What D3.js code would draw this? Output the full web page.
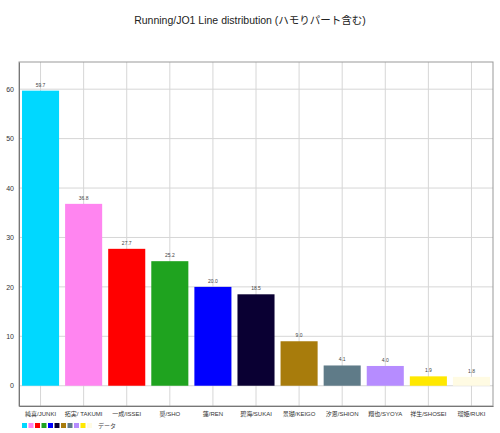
<!DOCTYPE html>
<html>
<head>
<meta charset="utf-8">
<script src="https://cdn.jsdelivr.net/npm/d3@7"></script>
<style>
  body { margin: 0; background: #fff; }
  text { font-family: "Liberation Sans", "Noto Sans CJK JP", sans-serif; }
</style>
</head>
<body>
<div id="chart"></div>
<script>
// members and their line share (%)
var members = ["純喜/JUNKI", "拓実/ TAKUMI", "一成/ISSEI", "奨/SHO", "蓮/REN", "碧海/SUKAI",
  "景瑚/KEIGO", "汐恩/SHION", "翔也/SYOYA", "祥生/SHOSEI", "瑠姫/RUKI"];
var values = [59.7, 36.8, 27.7, 25.2, 20.0, 18.5, 9.0, 4.1, 4.0, 1.9, 1.8];
var colors = ["#00d8ff", "#ff85f0", "#ff0000", "#1fa31f", "#0000ff", "#0a0033",
  "#a87c0c", "#5f7b88", "#b68cff", "#ffe800", "#fffbe3"];
var yTicks = [0, 10, 20, 30, 40, 50, 60];

var svgWidth = 500, svgHeight = 433;
var margin = { top: 62, right: 7, bottom: 27, left: 19 };
var width = svgWidth - margin.left - margin.right;
var height = svgHeight - margin.top - margin.bottom;

var svg = d3.select("#chart").append("svg")
  .attr("width", svgWidth)
  .attr("height", svgHeight);

svg.append("text")
  .attr("x", svgWidth / 2)
  .attr("y", 24)
  .attr("text-anchor", "middle")
  .attr("font-size", "10.5px")
  .attr("fill", "#222")
  .text("Running/JO1  Line distribution (ハモりパート含む)");

var chartGroup = svg.append("g")
  .attr("transform", `translate(${margin.left}, ${margin.top})`);

var xScale = d3.scaleBand()
  .domain(members)
  .range([0, width])
  .paddingInner(0.14)
  .paddingOuter(0.07);

var yScale = d3.scaleLinear()
  .domain([-4.1, 65.5])
  .range([height, 0]);

// grid
chartGroup.selectAll("line.hgrid")
  .data(yTicks)
  .enter()
  .append("line")
  .attr("x1", 0)
  .attr("x2", width)
  .attr("y1", d => yScale(d))
  .attr("y2", d => yScale(d))
  .attr("stroke", "#d6d6d6")
  .attr("stroke-width", 1);

chartGroup.selectAll("line.vgrid")
  .data(members)
  .enter()
  .append("line")
  .attr("x1", d => xScale(d) + xScale.bandwidth() / 2)
  .attr("x2", d => xScale(d) + xScale.bandwidth() / 2)
  .attr("y1", 0)
  .attr("y2", height)
  .attr("stroke", "#d6d6d6")
  .attr("stroke-width", 1);

// bars
chartGroup.selectAll("rect.bar")
  .data(values)
  .enter()
  .append("rect")
  .attr("x", (d, i) => xScale(members[i]))
  .attr("y", d => yScale(d))
  .attr("width", xScale.bandwidth())
  .attr("height", d => yScale(0) - yScale(d))
  .attr("fill", (d, i) => colors[i]);

// value labels
chartGroup.selectAll("text.val")
  .data(values)
  .enter()
  .append("text")
  .attr("x", (d, i) => xScale(members[i]) + xScale.bandwidth() / 2)
  .attr("y", d => yScale(d) - 4)
  .attr("text-anchor", "middle")
  .attr("font-size", "5px")
  .attr("fill", "#444")
  .text(d => d.toFixed(1));

// frame
chartGroup.append("rect")
  .attr("width", width)
  .attr("height", height)
  .attr("fill", "none")
  .attr("stroke", "#999")
  .attr("stroke-width", 1);

// y axis
var leftAxis = d3.axisLeft(yScale).tickValues(yTicks).tickSize(0).tickPadding(5);
var yAxis = chartGroup.append("g").call(leftAxis);
yAxis.select(".domain").attr("stroke", "#777");
yAxis.selectAll("text").attr("font-size", "7px").attr("fill", "#333");

// x axis
var bottomAxis = d3.axisBottom(xScale).tickSize(0).tickPadding(6);
var xAxis = chartGroup.append("g")
  .attr("transform", `translate(0, ${height})`)
  .call(bottomAxis);
xAxis.select(".domain").attr("stroke", "#777");
xAxis.selectAll("text").attr("font-size", "6px").attr("fill", "#333");

// legend
var legend = svg.append("g").attr("transform", "translate(22, 423)");
legend.selectAll("rect")
  .data(colors)
  .enter()
  .append("rect")
  .attr("x", (d, i) => i * 6.5)
  .attr("y", 0)
  .attr("width", 5)
  .attr("height", 5)
  .attr("fill", d => d);
legend.append("text")
  .attr("x", 76)
  .attr("y", 5)
  .attr("font-size", "6px")
  .attr("fill", "#444")
  .text("データ");
</script>
</body>
</html>
